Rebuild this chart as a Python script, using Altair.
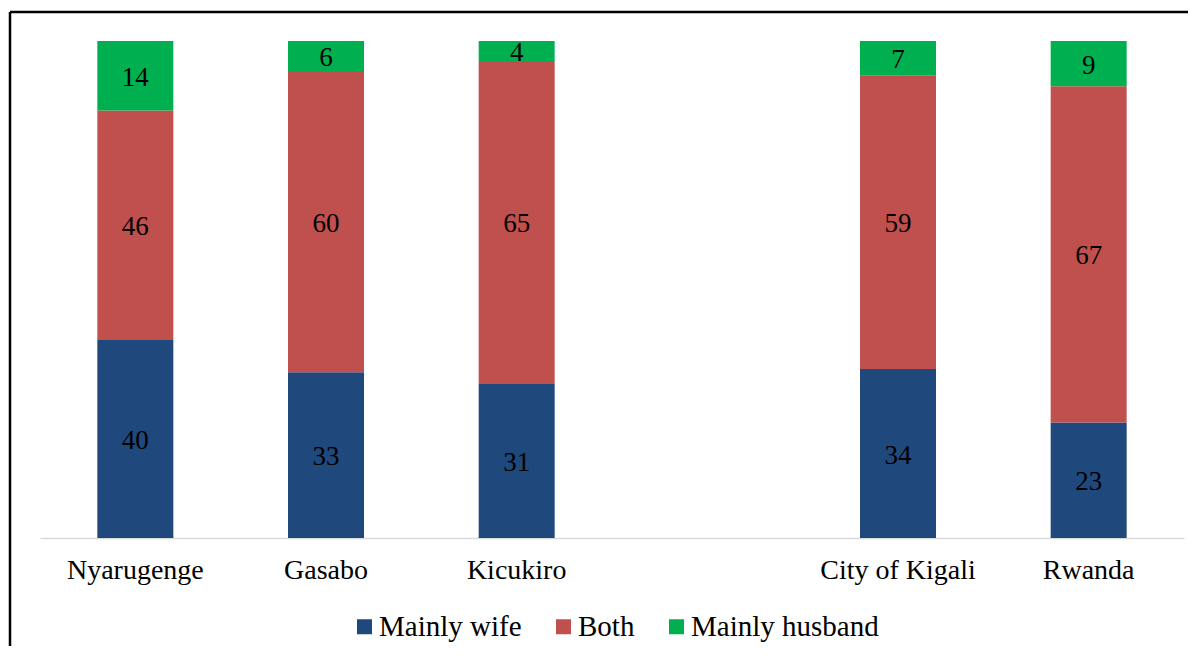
import altair as alt
import pandas as pd

regions = ["Nyarugenge", "Gasabo", "Kicukiro", "City of Kigali", "Rwanda"]
x_domain = ["Nyarugenge", "Gasabo", "Kicukiro", " ", "City of Kigali", "Rwanda"]
series = ["Mainly wife", "Both", "Mainly husband"]
colors = ["#1F497D", "#C0504D", "#00B050"]
mainly_wife = [40, 33, 31, 34, 23]
both = [46, 60, 65, 59, 67]
mainly_husband = [14, 6, 4, 7, 9]

rows = []
for i, r in enumerate(regions):
    for k, (s, vals) in enumerate(zip(series, [mainly_wife, both, mainly_husband])):
        rows.append({"region": r, "series": s, "order": k, "value": vals[i]})
df = pd.DataFrame(rows)

FONT = "Liberation Serif"

base = alt.Chart(df).transform_stack(
    stack="value", as_=["v0", "v1"], groupby=["region"],
    sort=[alt.SortField("order", order="ascending")], offset="normalize"
).transform_calculate(mid="(datum.v0 + datum.v1) / 2")

xenc = alt.X("region:N", scale=alt.Scale(domain=x_domain, paddingInner=0, paddingOuter=0),
             sort=x_domain,
             axis=alt.Axis(title=None, labelAngle=0, ticks=False, domainColor="#d9d9d9",
                           domainWidth=1.5, labelFont=FONT, labelFontSize=28,
                           labelColor="black", labelPadding=18))

bars = base.mark_bar(size=76).encode(
    x=xenc,
    y=alt.Y("v0:Q", scale=alt.Scale(domain=[0, 1]), axis=None),
    y2="v1:Q",
    color=alt.Color("series:N", scale=alt.Scale(domain=series, range=colors),
                    legend=alt.Legend(title=None, orient="none", direction="horizontal",
                                      legendX=310, legendY=571, symbolType="square",
                                      symbolSize=225, symbolStrokeWidth=0,
                                      labelFont=FONT, labelFontSize=29, labelColor="black",
                                      labelOffset=0, columnPadding=27, labelLimit=400)),
    order=alt.Order("order:Q"),
)

labels = base.mark_text(font=FONT, fontSize=27, color="black", dy=2).encode(
    x=alt.X("region:N", sort=x_domain),
    y=alt.Y("mid:Q"),
    text="value:Q",
)

border = alt.Chart(alt.Data(values=[{}])).mark_rule(color="black", strokeWidth=2.5).encode(
    x=alt.value(-30), x2=alt.value(1200), y=alt.value(-29)
)
border_left = alt.Chart(alt.Data(values=[{}])).mark_rule(color="black", strokeWidth=2.5).encode(
    x=alt.value(-30), y=alt.value(-29), y2=alt.value(700)
)

chart = alt.layer(bars, labels, border, border_left).properties(
    width=1144, height=497,
    autosize=alt.AutoSizeParams(type="none"),
    padding={"left": 32, "top": 33, "right": 4, "bottom": 108},
).configure_view(stroke=None)

chart.save("out.html", embed_options={"renderer": "svg", "actions": False})
